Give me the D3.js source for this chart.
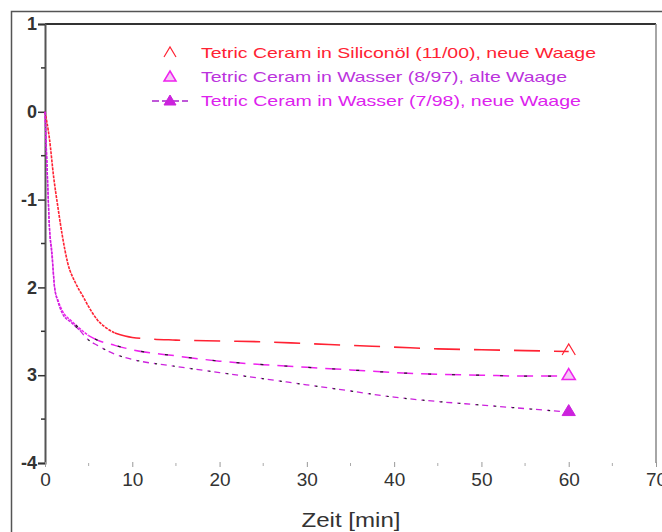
<!DOCTYPE html>
<html>
<head>
<meta charset="utf-8">
<script src="https://cdn.jsdelivr.net/npm/d3@7"></script>
<style>
  body { margin: 0; background: #fff; }
  text { font-family: "Liberation Sans", Arial, sans-serif; }
</style>
</head>
<body>
<svg id="chart" width="662" height="532"></svg>
<script>
// time in minutes
var timeSilicon = [0, 0.5, 1, 1.5, 2, 2.6, 3.5, 4.4, 5, 6, 7, 8, 10, 15, 20, 25, 30, 35, 40, 45, 50, 55, 60];
var valSilicon  = [0, -0.3, -0.75, -1.1, -1.42, -1.72, -1.95, -2.11, -2.22, -2.37, -2.46, -2.52, -2.57, -2.6, -2.61, -2.62, -2.64, -2.66, -2.68, -2.7, -2.71, -2.72, -2.73];

var timeWater = [0, 0.3, 0.5, 0.8, 1.1, 1.5, 2, 3, 4, 5, 6, 8, 10, 15, 20, 25, 30, 35, 40, 45, 50, 55, 60];
var valWater97 = [0, -0.8, -1.3, -1.6, -2.0, -2.15, -2.27, -2.38, -2.47, -2.55, -2.6, -2.66, -2.71, -2.78, -2.84, -2.88, -2.91, -2.94, -2.97, -2.99, -3.0, -3.01, -3.01];
var valWater98 = [0, -0.8, -1.3, -1.65, -2.0, -2.17, -2.3, -2.4, -2.49, -2.6, -2.66, -2.76, -2.82, -2.9, -2.97, -3.04, -3.11, -3.18, -3.25, -3.3, -3.34, -3.38, -3.42];

var seriesNames = [
  'Tetric Ceram in Siliconöl (11/00), neue Waage',
  'Tetric Ceram in Wasser (8/97), alte Waage',
  'Tetric Ceram in Wasser (7/98), neue Waage'
];

var xTicks = [0, 10, 20, 30, 40, 50, 60, 70];
var yTicks = [1, 0, -1, -2, -3, -4];
var yTickLabels = ['1', '0', '-1', '2', '3', '-4'];

var svg = d3.select('#chart');

// outer frame
svg.append('path')
  .attr('d', 'M11.5,532 V11.5 H662')
  .attr('fill', 'none').attr('stroke', '#555').attr('stroke-width', 1.5);

var plotLeft = 45, plotRight = 656, plotTop = 24, plotBottom = 463;

var x = d3.scaleLinear().domain([0, 70]).range([plotLeft, plotRight]);
var y = d3.scaleLinear().domain([-4, 1]).range([plotBottom, plotTop]);

// plot box: top and right border, left axis
svg.append('line').attr('x1', plotLeft).attr('x2', plotRight).attr('y1', plotTop).attr('y2', plotTop)
  .attr('stroke', '#333').attr('stroke-width', 2);
svg.append('line').attr('x1', plotRight).attr('x2', plotRight).attr('y1', plotTop).attr('y2', plotBottom)
  .attr('stroke', '#888').attr('stroke-width', 1.5);

// y axis with minor ticks at halves
var yAxis = d3.axisLeft(y)
  .tickValues(yTicks)
  .tickSize(7)
  .tickFormat(function(d, i) { return yTickLabels[i]; });
var gy = svg.append('g').attr('transform', 'translate(' + plotLeft + ',0)').call(yAxis);
gy.select('.domain').attr('stroke', '#555').attr('stroke-width', 2);
gy.selectAll('.tick line').attr('stroke', '#333').attr('stroke-width', 1.5);
gy.selectAll('.tick text').attr('font-size', 18).attr('fill', '#333').attr('x', -8)
  .attr('font-weight', 'bold');
svg.append('g').selectAll('line')
  .data(d3.range(-3.5, 1, 1))
  .enter().append('line')
  .attr('x1', plotLeft - 4).attr('x2', plotLeft)
  .attr('y1', function(d) { return y(d); }).attr('y2', function(d) { return y(d); })
  .attr('stroke', '#333').attr('stroke-width', 1.5);

// x axis: ticks only, no baseline
var xAxis = d3.axisBottom(x).tickValues(xTicks).tickSize(5).tickFormat(d3.format('d'));
var gx = svg.append('g').attr('transform', 'translate(0,' + (plotBottom - 1) + ')').call(xAxis);
gx.select('.domain').remove();
gx.selectAll('.tick line').attr('stroke', '#999');
gx.selectAll('.tick text').attr('font-size', 19).attr('fill', '#333').attr('dy', '0.85em');
svg.append('g').selectAll('line')
  .data(d3.range(5, 70, 10))
  .enter().append('line')
  .attr('x1', function(d) { return x(d); }).attr('x2', function(d) { return x(d); })
  .attr('y1', plotBottom).attr('y2', plotBottom + 3)
  .attr('stroke', '#aaa');

svg.append('text')
  .attr('x', 351).attr('y', 527)
  .attr('text-anchor', 'middle')
  .attr('font-size', 21).attr('fill', '#333')
  .attr('textLength', 99).attr('lengthAdjust', 'spacingAndGlyphs')
  .text('Zeit [min]');

// lines: dense early part drawn solid, later part dashed
var line = d3.line()
  .x(function(d) { return x(d[0]); })
  .y(function(d) { return y(d[1]); })
  .curve(d3.curveMonotoneX);

var series = [
  { t: timeSilicon, v: valSilicon, color: '#ff2233', dash: '26,14', width: 1.6, marker: 'open', split: 8 },
  { t: timeWater, v: valWater97, color: '#ee22ee', dash: '16,8', width: 1.5, marker: 'outline', split: 5 },
  { t: timeWater, v: valWater98, color: '#cc22dd', dash: '6,5,2,5', width: 1.3, marker: 'filled', split: 4 }
];

series.forEach(function(s) {
  var pts = s.t.map(function(t, i) { return [t, s.v[i]]; });
  var early = pts.filter(function(p) { return p[0] <= s.split; });
  var late = pts.filter(function(p) { return p[0] >= s.split; });
  svg.append('path')
    .datum(early)
    .attr('d', line)
    .attr('fill', 'none')
    .attr('stroke', s.color)
    .attr('stroke-width', s.width)
    .attr('stroke-dasharray', '3,1');
  svg.append('path')
    .datum(late)
    .attr('d', line)
    .attr('fill', 'none')
    .attr('stroke', s.color)
    .attr('stroke-width', s.width)
    .attr('stroke-dasharray', s.dash);
});

// small dark dots inside the water lines
[valWater97, valWater98].forEach(function(vals, k) {
  var pts = timeWater.map(function(t, i) { return [t, vals[i]]; })
    .filter(function(p) { return p[0] >= 3; });
  svg.append('path')
    .datum(pts)
    .attr('d', line)
    .attr('fill', 'none')
    .attr('stroke', '#222')
    .attr('stroke-width', 1.2)
    .attr('stroke-dasharray', k === 0 ? '3,21' : '2,16')
    .attr('stroke-dashoffset', -6);
});

function triangle(g, cx, cy, kind, color, size) {
  var h = size, w = size * 0.6;
  var p = 'M' + cx + ',' + (cy - h / 2) + ' L' + (cx + w) + ',' + (cy + h / 2) + ' L' + (cx - w) + ',' + (cy + h / 2) + ' Z';
  if (kind === 'open') {
    p = 'M' + (cx - w) + ',' + (cy + h / 2) + ' L' + cx + ',' + (cy - h / 2) + ' L' + (cx + w) + ',' + (cy + h / 2);
    g.append('path').attr('d', p).attr('fill', 'none').attr('stroke', color).attr('stroke-width', 1.2);
  } else if (kind === 'outline') {
    g.append('path').attr('d', p).attr('fill', '#f6c8f6').attr('stroke', color).attr('stroke-width', 1.5);
  } else {
    g.append('path').attr('d', p).attr('fill', color).attr('stroke', color);
  }
}

// end markers at t = 60
series.forEach(function(s) {
  var last = s.t.length - 1;
  triangle(svg, x(s.t[last]), y(s.v[last]) - 2, s.marker, s.color, 11);
});

// legend
var legendColors = ['#ff2233', '#bb33dd', '#dd22ee'];
var legendLen = [395, 366, 380];
seriesNames.forEach(function(name, i) {
  var cy = 53 + i * 24;
  if (i === 2) {
    svg.append('line').attr('x1', 152).attr('x2', 188).attr('y1', cy).attr('y2', cy)
      .attr('stroke', '#aa22cc').attr('stroke-width', 1.3).attr('stroke-dasharray', '7,3');
  }
  triangle(svg, 170, cy - 1, series[i].marker, series[i].color, 10);
  svg.append('text')
    .attr('x', 201).attr('y', cy + 5)
    .attr('font-size', 15)
    .attr('fill', legendColors[i])
    .attr('textLength', legendLen[i])
    .attr('lengthAdjust', 'spacingAndGlyphs')
    .text(name);
});
</script>
</body>
</html>
